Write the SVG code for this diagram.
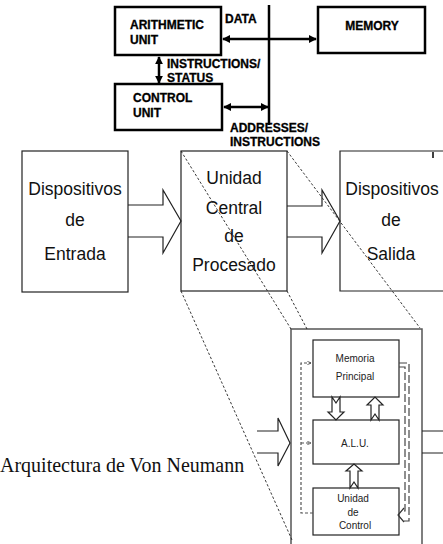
<svg xmlns="http://www.w3.org/2000/svg" width="443" height="544" viewBox="0 0 443 544">
<style>
.tb{fill:none;stroke:#000;stroke-width:2.5}
.tl{font-family:"Liberation Sans",Arial,sans-serif;font-weight:bold;font-size:12px;fill:#000;stroke:#000;stroke-width:0.3}
.bx{fill:#fff;stroke:#222;stroke-width:1.2}
.bt{font-family:"Liberation Sans",Arial,sans-serif;font-size:17.5px;fill:#111;text-anchor:middle}
.it{font-family:"Liberation Sans",Arial,sans-serif;font-size:10px;fill:#222;text-anchor:middle}
.blk{fill:none;stroke:#222;stroke-width:1.2}
.dd{fill:none;stroke:#222;stroke-width:0.9;stroke-dasharray:2.5,2}
.sd{fill:none;stroke:#555;stroke-width:1.2;stroke-dasharray:3,2}
.ld{fill:none;stroke:#444;stroke-width:1.2;stroke-dasharray:8,3}
</style>
<defs>
<marker id="ah" viewBox="0 0 10 10" refX="9" refY="5" markerWidth="8" markerHeight="8" markerUnits="userSpaceOnUse" orient="auto-start-reverse">
<path d="M0,0 L10,5 L0,10 z" fill="#000"/>
</marker>
<marker id="sa" viewBox="0 0 10 10" refX="9" refY="5" markerWidth="4" markerHeight="4" markerUnits="userSpaceOnUse" orient="auto">
<path d="M0,1 L10,5 L0,9" fill="none" stroke="#444" stroke-width="2"/>
</marker>
</defs>

<!-- top section nodes -->
<g id="arith">
<rect class="tb" x="115" y="7" width="106" height="48"/>
<text class="tl" x="130" y="29">ARITHMETIC</text>
<text class="tl" x="130" y="44">UNIT</text>
</g>
<g id="memory">
<rect class="tb" x="318" y="7" width="107" height="46"/>
<text class="tl" x="372" y="30" text-anchor="middle">MEMORY</text>
</g>
<g id="control">
<rect class="tb" x="115" y="84" width="107" height="46"/>
<text class="tl" x="133" y="102">CONTROL</text>
<text class="tl" x="133" y="117">UNIT</text>
</g>
<g id="top-labels">
<text class="tl" x="225" y="23">DATA</text>
<text class="tl" x="167" y="68">INSTRUCTIONS/</text>
<text class="tl" x="167" y="82">STATUS</text>
<text class="tl" x="230" y="132">ADDRESSES/</text>
<text class="tl" x="230" y="146">INSTRUCTIONS</text>
</g>

<!-- second row nodes -->
<g id="entrada">
<rect class="bx" x="22" y="151" width="106" height="141"/>
<text class="bt" x="75" y="195">Dispositivos</text>
<text class="bt" x="75" y="226">de</text>
<text class="bt" x="75" y="260">Entrada</text>
</g>
<g id="cpu">
<rect class="bx" x="181" y="151" width="106" height="140"/>
<text class="bt" x="234" y="184">Unidad</text>
<text class="bt" x="234" y="214">Central</text>
<text class="bt" x="234" y="242">de</text>
<text class="bt" x="234" y="271">Procesado</text>
</g>
<g id="salida">
<path class="bx" d="M445,151 H340 V291 H445"/>
<text class="bt" x="392" y="195">Dispositivos</text>
<text class="bt" x="391" y="226">de</text>
<text class="bt" x="391" y="260">Salida</text>
<line x1="433" y1="152" x2="433" y2="158" stroke="#000" stroke-width="1.5"/>
</g>

<!-- zoomed CPU frame -->
<g id="frame">
<path d="M291,548 V329 H422 V548" fill="none" stroke="#555" stroke-width="1.5"/>
</g>
<g id="memoria">
<rect class="bx" x="313" y="340" width="86" height="57"/>
<text class="it" x="355" y="362">Memoria</text>
<text class="it" x="355" y="380">Principal</text>
</g>
<g id="alu">
<rect class="bx" x="313" y="420" width="86" height="44"/>
<text class="it" x="355" y="447">A.L.U.</text>
</g>
<g id="uc">
<rect class="bx" x="313" y="488" width="86" height="47"/>
<text class="it" x="353" y="502">Unidad</text>
<text class="it" x="353" y="516">de</text>
<text class="it" x="355" y="529">Control</text>
</g>

<g id="title">
<text x="0" y="472" font-family="'Liberation Serif','Times New Roman',serif" font-size="20" fill="#111">Arquitectura de Von Neumann</text>
</g>

<!-- connectors -->
<g id="connectors">
<line x1="269" y1="5" x2="269" y2="125" stroke="#000" stroke-width="2.5"/>
<line x1="223" y1="39" x2="316" y2="39" stroke="#000" stroke-width="2.5" marker-start="url(#ah)" marker-end="url(#ah)"/>
<line x1="224" y1="107" x2="268" y2="107" stroke="#000" stroke-width="2.5" marker-start="url(#ah)" marker-end="url(#ah)"/>
<line x1="159" y1="57" x2="159" y2="83" stroke="#000" stroke-width="2.5" marker-start="url(#ah)" marker-end="url(#ah)"/>

<path class="blk" d="M128,205 H163 V190 L181,221 L163,253 V237 H128"/>
<path class="blk" d="M287,206 H322 V190 L340,221 L322,253 V237 H287"/>
<path class="blk" d="M257,431 H278 V418 L290,443 L278,466 V453 H257"/>
<path class="blk" d="M422,431 H443 M422,453 H443"/>

<path class="blk" fill="#fff" d="M332,397 L336,403 L340,397 V412 H344 L336,420 L328,412 H332 Z"/>
<path class="blk" fill="#fff" d="M371,420 L375,414 L379,420 V405 H383 L375,397 L367,405 H371 Z"/>
<path class="blk" fill="#fff" d="M350,488 L354,482 L358,488 V471 H362 L354,464 L346,471 H350 Z"/>

<path class="sd" d="M313,513 H301 V363 H311" marker-end="url(#sa)"/>
<path class="sd" d="M301,443 H311" marker-end="url(#sa)"/>
<path class="ld" d="M399,363 H409 V521 H401"/>
<path class="ld" d="M399,367 H405 V511 H402"/>
<path d="M404,508 L398,515 L404,522" fill="none" stroke="#333" stroke-width="1.2"/>

<line class="dd" x1="181" y1="151" x2="291" y2="329"/>
<line class="dd" x1="287" y1="291" x2="307" y2="329"/>
<line class="dd" x1="181" y1="291" x2="292" y2="540"/>
<line class="dd" x1="287" y1="151" x2="420" y2="328"/>
</g>
</svg>
